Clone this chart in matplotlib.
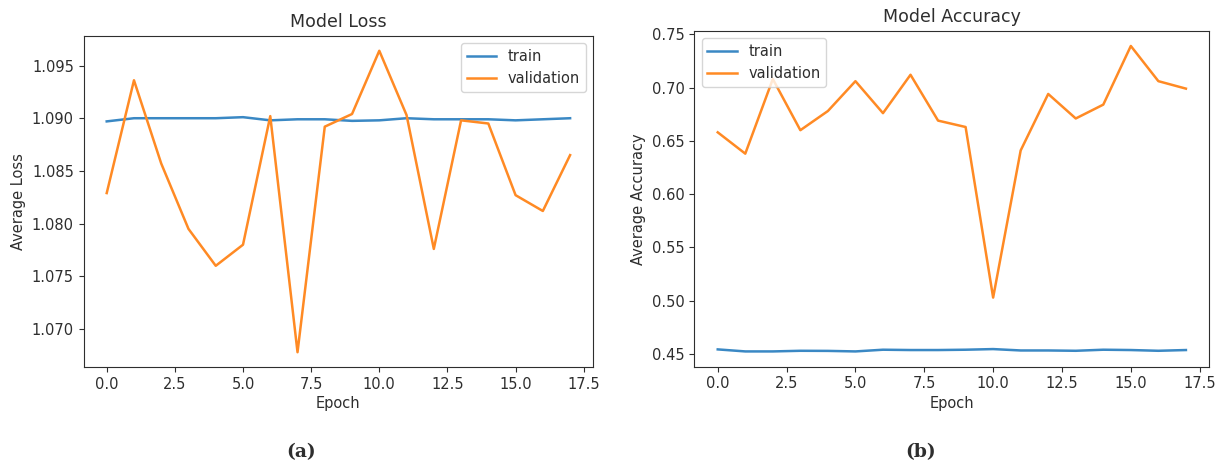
import matplotlib
matplotlib.use("Agg")
import matplotlib.pyplot as plt

# Training history per epoch
epochs = list(range(18))

loss_train = [1.0897, 1.0900, 1.0900, 1.0900, 1.0900, 1.0901, 1.0898, 1.0899, 1.0899,
              1.08975, 1.0898, 1.0900, 1.0899, 1.0899, 1.0899, 1.0898, 1.0899, 1.0900]
loss_val = [1.0829, 1.0936, 1.0857, 1.0795, 1.0760, 1.0780, 1.0902, 1.0678, 1.0892,
            1.0904, 1.0964, 1.0903, 1.0776, 1.0898, 1.0895, 1.0827, 1.0812, 1.0865]

acc_train = [0.4544, 0.4525, 0.4525, 0.4531, 0.4530, 0.4525, 0.4541, 0.4538, 0.4538,
             0.4541, 0.4547, 0.4534, 0.4534, 0.4531, 0.4541, 0.4538, 0.4531, 0.4538]
acc_val = [0.658, 0.638, 0.708, 0.660, 0.678, 0.706, 0.676, 0.712, 0.669,
           0.663, 0.503, 0.641, 0.694, 0.671, 0.684, 0.739, 0.706, 0.699]

series_labels = ["train", "validation"]
titles = ["Model Loss", "Model Accuracy"]
ylabels = ["Average Loss", "Average Accuracy"]
captions = ["(a)", "(b)"]

train_color = "#3a88c4"
val_color = "#ff8a24"

plt.rcParams["font.family"] = "DejaVu Sans"
plt.rcParams["font.size"] = 10.5
plt.rcParams["text.color"] = "#2e2e2e"
plt.rcParams["axes.labelcolor"] = "#2e2e2e"
plt.rcParams["xtick.color"] = "#2e2e2e"
plt.rcParams["ytick.color"] = "#2e2e2e"
plt.rcParams["axes.edgecolor"] = "#2e2e2e"

fig = plt.figure(figsize=(12.25, 4.66), dpi=100)
ax1 = fig.add_axes([0.0682, 0.2118, 0.4161, 0.7116])
ax2 = fig.add_axes([0.5668, 0.2131, 0.4204, 0.7210])

lw = 1.8
ax1.plot(epochs, loss_train, color=train_color, lw=lw, label=series_labels[0])
ax1.plot(epochs, loss_val, color=val_color, lw=lw, label=series_labels[1])
ax2.plot(epochs, acc_train, color=train_color, lw=lw, label=series_labels[0])
ax2.plot(epochs, acc_val, color=val_color, lw=lw, label=series_labels[1])

ax1.set_yticks([1.070, 1.075, 1.080, 1.085, 1.090, 1.095])
ax1.set_yticklabels(["1.070", "1.075", "1.080", "1.085", "1.090", "1.095"])
ax2.set_yticks([0.45, 0.50, 0.55, 0.60, 0.65, 0.70, 0.75])
ax2.set_yticklabels(["0.45", "0.50", "0.55", "0.60", "0.65", "0.70", "0.75"])

for ax, t, yl, loc in zip([ax1, ax2], titles, ylabels, ["upper right", "upper left"]):
    ax.set_title(t, fontsize=12.5, pad=6)
    ax.set_xlabel("Epoch", labelpad=3)
    ax.set_ylabel(yl, labelpad=4)
    ax.set_xticks([0, 2.5, 5, 7.5, 10, 12.5, 15, 17.5])
    ax.tick_params(labelsize=10.5)
    ax.legend(loc=loc, fontsize=10.5)

fig.text(301 / 1225, 1 - 452 / 466, captions[0], ha="center", va="center",
         fontsize=13.5, fontweight="bold", family="DejaVu Serif")
fig.text(921 / 1225, 1 - 452 / 466, captions[1], ha="center", va="center",
         fontsize=13.5, fontweight="bold", family="DejaVu Serif")

fig.savefig("out.png", dpi=100)
